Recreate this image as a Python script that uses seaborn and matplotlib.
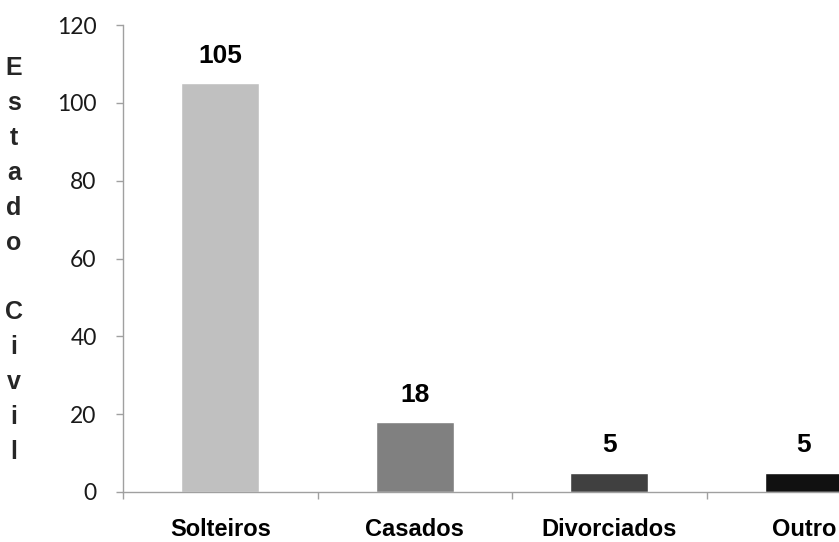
import matplotlib
matplotlib.use("Agg")
import matplotlib.pyplot as plt
import seaborn as sns
import pandas as pd

# Dados do gráfico
categorias = ["Solteiros", "Casados", "Divorciados", "Outro"]
valores = [105, 18, 5, 5]
cores = ["#C0C0C0", "#808080", "#404040", "#111111"]
titulo_y = "Estado Civil"
ticks_y = [0, 20, 40, 60, 80, 100, 120]

df = pd.DataFrame({"Estado": categorias, "Total": valores})

sns.set_style("white")
plt.rcParams["font.family"] = ["Liberation Sans", "DejaVu Sans"]

fig = plt.figure(figsize=(8.39, 5.42), dpi=100)
# o eixo continua para lá da margem direita (gráfico cortado no original)
ax = fig.add_axes([123 / 839, 50 / 542, 778 / 839, 467 / 542])

sns.barplot(data=df, x="Estado", y="Total", hue="Estado", palette=cores,
            width=0.4, legend=False, ax=ax, saturation=1)

ax.set_xlim(-0.5, 3.5)
ax.set_ylim(0, 120)
ax.set_yticks(ticks_y)
ax.set_xlabel("")
ax.set_ylabel("")

cor_eixo = "#A0A0A0"
for lado in ["top", "right"]:
    ax.spines[lado].set_visible(False)
for lado in ["left", "bottom"]:
    ax.spines[lado].set_color(cor_eixo)
    ax.spines[lado].set_linewidth(1)

# rótulos do eixo y
ax.tick_params(axis="y", direction="out", length=5, width=1, color=cor_eixo,
               pad=14, left=True)
for t in ax.get_yticklabels():
    t.set_fontfamily(["Lato", "DejaVu Sans"])
    t.set_fontsize(16.5)
    t.set_color("#1a1a1a")

# ticks do eixo x entre categorias
ax.set_xticks([-0.5, 0.5, 1.5, 2.5], minor=True)
ax.tick_params(axis="x", which="minor", direction="out", length=5, width=1,
               color=cor_eixo, bottom=True)
ax.tick_params(axis="x", which="major", length=0, pad=19)
for t in ax.get_xticklabels():
    t.set_fontweight("bold")
    t.set_fontsize(17)
    t.set_color("black")

# valores por cima das barras
for i, v in enumerate(valores):
    ax.annotate(str(v), (i, v), xytext=(0, 11), textcoords="offset points",
                ha="center", va="bottom", fontsize=19, fontweight="bold",
                color="black")

# título vertical com letras empilhadas
fig.text(14 / 839, 1 - 260 / 542, "\n".join(titulo_y), ha="center",
         va="center", fontsize=18, fontweight="bold", linespacing=1.57)

fig.savefig("out.png", dpi=100)
